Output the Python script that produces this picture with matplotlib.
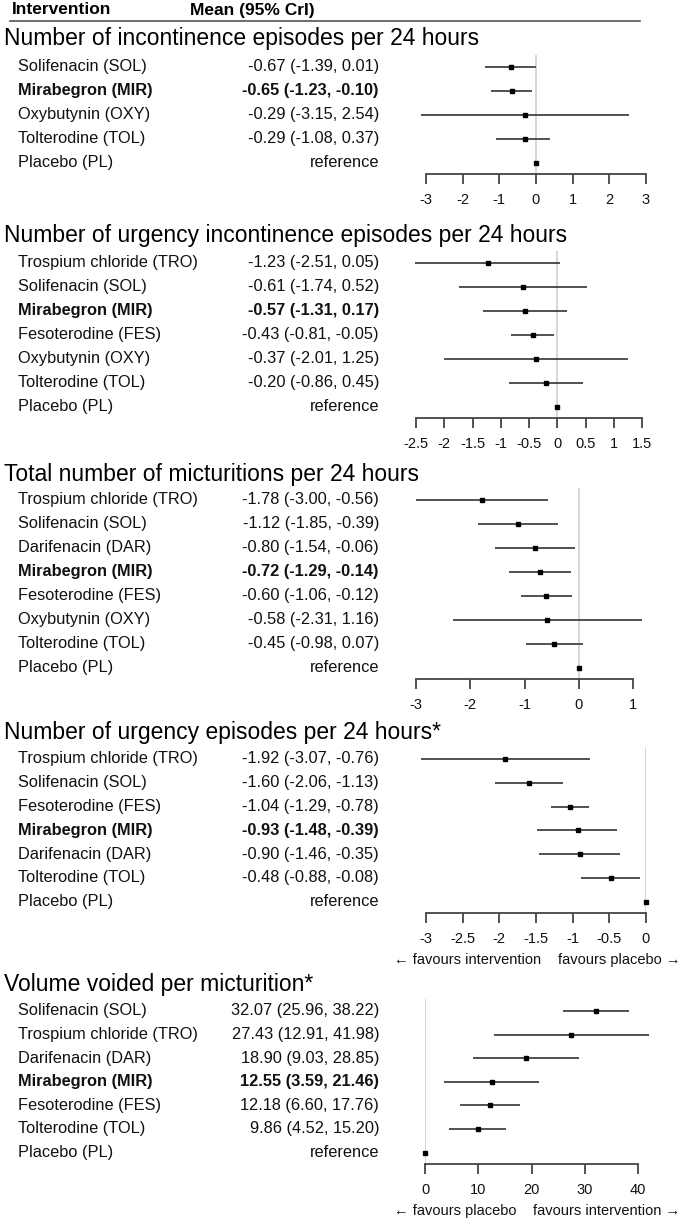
import matplotlib.pyplot as plt
from matplotlib.lines import Line2D
from matplotlib.transforms import blended_transform_factory

plt.rcParams['font.family'] = ['Liberation Sans', 'DejaVu Sans']
plt.rcParams['axes.unicode_minus'] = False

W, H = 679, 1220

# ---- data ----
inc_names = ["Solifenacin (SOL)", "Mirabegron (MIR)", "Oxybutynin (OXY)", "Tolterodine (TOL)", "Placebo (PL)"]
inc_mean = [-0.67, -0.65, -0.29, -0.29, 0.0]
inc_lo = [-1.39, -1.23, -3.15, -1.08, None]
inc_hi = [0.01, -0.10, 2.54, 0.37, None]

uui_names = ["Trospium chloride (TRO)", "Solifenacin (SOL)", "Mirabegron (MIR)", "Fesoterodine (FES)",
             "Oxybutynin (OXY)", "Tolterodine (TOL)", "Placebo (PL)"]
uui_mean = [-1.23, -0.61, -0.57, -0.43, -0.37, -0.20, 0.0]
uui_lo = [-2.51, -1.74, -1.31, -0.81, -2.01, -0.86, None]
uui_hi = [0.05, 0.52, 0.17, -0.05, 1.25, 0.45, None]

mic_names = ["Trospium chloride (TRO)", "Solifenacin (SOL)", "Darifenacin (DAR)", "Mirabegron (MIR)",
             "Fesoterodine (FES)", "Oxybutynin (OXY)", "Tolterodine (TOL)", "Placebo (PL)"]
mic_mean = [-1.78, -1.12, -0.80, -0.72, -0.60, -0.58, -0.45, 0.0]
mic_lo = [-3.00, -1.85, -1.54, -1.29, -1.06, -2.31, -0.98, None]
mic_hi = [-0.56, -0.39, -0.06, -0.14, -0.12, 1.16, 0.07, None]

urg_names = ["Trospium chloride (TRO)", "Solifenacin (SOL)", "Fesoterodine (FES)", "Mirabegron (MIR)",
             "Darifenacin (DAR)", "Tolterodine (TOL)", "Placebo (PL)"]
urg_mean = [-1.92, -1.60, -1.04, -0.93, -0.90, -0.48, 0.0]
urg_lo = [-3.07, -2.06, -1.29, -1.48, -1.46, -0.88, None]
urg_hi = [-0.76, -1.13, -0.78, -0.39, -0.35, -0.08, None]

vol_names = ["Solifenacin (SOL)", "Trospium chloride (TRO)", "Darifenacin (DAR)", "Mirabegron (MIR)",
             "Fesoterodine (FES)", "Tolterodine (TOL)", "Placebo (PL)"]
vol_mean = [32.07, 27.43, 18.90, 12.55, 12.18, 9.86, 0.0]
vol_lo = [25.96, 12.91, 9.03, 3.59, 6.60, 4.52, None]
vol_hi = [38.22, 41.98, 28.85, 21.46, 17.76, 15.20, None]

highlight = "Mirabegron (MIR)"

fig = plt.figure(figsize=(W / 100, H / 100), dpi=100)


def fy(y):
    return 1 - y / H


# header
hdr_font = ['Liberation Sans Narrow', 'Liberation Sans', 'DejaVu Sans']
fig.text(12 / W, fy(10), "Intervention", fontsize=12.5, fontweight='bold', family=hdr_font, va='center')
fig.text(190 / W, fy(10), "Mean (95% CrI)", fontsize=12.5, fontweight='bold', family=hdr_font, va='center')
fig.add_artist(Line2D([10 / W, 640 / W], [fy(21), fy(21)], color='#555555', lw=1.2))


def panel(title, names, mean, lo, hi, ticks, title_y, first_y, axis_y, x0, x1, favours=None):
    n = len(names)
    last_y = axis_y - 11.5
    s = (last_y - first_y) / (n - 1)
    top_px = first_y - 12
    ax = fig.add_axes([x0 / W, fy(axis_y), (x1 - x0) / W, (axis_y - top_px) / H])
    ax.set_xlim(ticks[0], ticks[-1])
    ax.set_ylim(n - 1 + (axis_y - last_y) / s, -(first_y - top_px) / s)
    rows = list(range(n))

    ax.axvline(0, color='#cfcfcf', lw=1.2, zorder=0)
    for r, m, l, h in zip(rows, mean, lo, hi):
        if l is not None:
            ax.plot([l, h], [r, r], color='#333333', lw=1.2, clip_on=False, solid_capstyle='butt')
        ax.plot([m], [r], marker='s', ms=3.3, color='black', clip_on=False)

    for side in ['top', 'right', 'left']:
        ax.spines[side].set_visible(False)
    ax.spines['bottom'].set_color('#444444')
    ax.spines['bottom'].set_linewidth(1.3)
    ax.set_yticks([])
    ax.set_xticks(ticks)
    ax.set_xticklabels(['%g' % t for t in ticks])
    ax.tick_params(axis='x', direction='out', length=7, width=1.3, color='#444444',
                   labelsize=10.5, pad=7, labelcolor='#111111')
    ax.patch.set_alpha(0)

    trans = blended_transform_factory(fig.transFigure, ax.transData)
    for r, name, m, l, h in zip(rows, names, mean, lo, hi):
        weight = 'bold' if name == highlight else 'normal'
        val = "reference" if l is None else "%.2f (%.2f, %.2f)" % (m, l, h)
        ax.text(18 / W, r, name, transform=trans, ha='left', va='center', fontsize=11.8,
                fontweight=weight, color='#111111')
        ax.text(379 / W, r, val, transform=trans, ha='right', va='center', fontsize=11.8,
                fontweight=weight, color='#111111')

    fig.text(4 / W, fy(title_y), title, fontsize=16.5, va='center', color='black')

    if favours is not None:
        (left_txt, left_x), (right_txt, right_x), fav_y = favours
        fig.text(left_x / W, fy(fav_y), left_txt, ha='right', va='center', fontsize=10.5,
                 family=['Liberation Sans', 'DejaVu Sans'], color='#111111')
        fig.text(right_x / W, fy(fav_y), right_txt, ha='left', va='center', fontsize=10.5,
                 family=['Liberation Sans', 'DejaVu Sans'], color='#111111')
    return ax


panel("Number of incontinence episodes per 24 hours", inc_names, inc_mean, inc_lo, inc_hi,
      [-3, -2, -1, 0, 1, 2, 3], 38, 67, 174, 426, 646)
panel("Number of urgency incontinence episodes per 24 hours", uui_names, uui_mean, uui_lo, uui_hi,
      [-2.5, -2, -1.5, -1, -0.5, 0, 0.5, 1, 1.5], 235, 263, 418, 416, 642)
panel("Total number of micturitions per 24 hours", mic_names, mic_mean, mic_lo, mic_hi,
      [-3, -2, -1, 0, 1], 475, 500, 679, 416, 633)
panel("Number of urgency episodes per 24 hours*", urg_names, urg_mean, urg_lo, urg_hi,
      [-3, -2.5, -2, -1.5, -1, -0.5, 0], 733, 759, 913, 426, 646,
      favours=(("\u2190 favours intervention", 541), ("favours placebo \u2192", 558), 960))
panel("Volume voided per micturition*", vol_names, vol_mean, vol_lo, vol_hi,
      [0, 10, 20, 30, 40], 984, 1011, 1164, 425, 638,
      favours=(("\u2190 favours placebo", 517), ("favours intervention \u2192", 533), 1211))

fig.savefig("out.png", dpi=100)
